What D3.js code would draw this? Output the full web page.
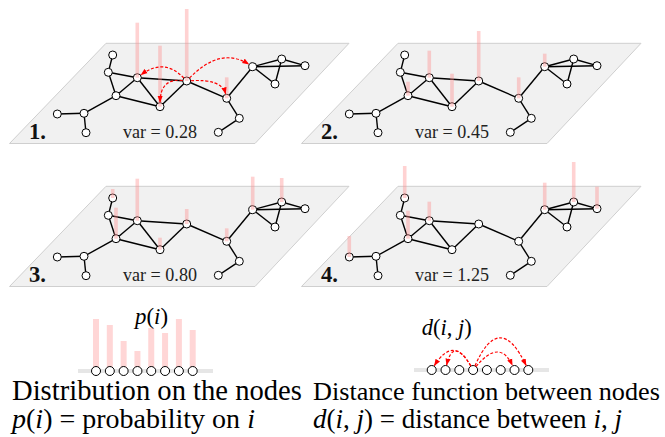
<!DOCTYPE html>
<html><head><meta charset="utf-8">
<script src="https://cdn.jsdelivr.net/npm/d3@7"></script>
<style>body{margin:0;background:#fff}svg{display:block}</style>
</head><body>
<svg id="c" width="665" height="437"></svg>
<script>
// ---------- data ----------
const nodeX = [112.7,108.3,137.3,116,160,186.7,226.7,252.7,281.7,305,275,239.3,218.3,84,57.3,86];
const nodeY = [55,72.3,77.7,95.7,106.7,81,98.3,66.7,59,65.7,84,118.3,132.3,113.3,114,132.7];
const edgeSource = [0,1,1,2,2,2,3,4,3,13,13,5,6,6,11,7,7,8,7,8];
const edgeTarget = [1,2,3,3,4,5,4,5,13,14,15,6,7,11,12,8,9,9,10,10];
const panelLabels = ["1.","2.","3.","4."];
const varLabels = ["var = 0.28","var = 0.45","var = 0.80","var = 1.25"];
const panelBarNodes = [[2,4,5,6],[3,2,4,5,6,7],[0,3,2,4,5,6,7,8],[0,3,2,14,7,8,9]];
const panelBarValues = [[0.55,0.61,0.72,0.21],[0.14,0.27,0.33,0.50,0.21,0.13],[0.09,0.31,0.42,0.12,0.15,0.13,0.33,0.24],[0.32,0.28,0.19,0.21,0.27,0.40,0.22]];
const arrowSource = 5;
const arrowTargets = [2,4,6,7];
const distBarValues = [0.52,0.46,0.30,0.20,0.43,0.38,0.52,0.41];
const distNodeCount = 8;
const distArrowSource = 3;
const distArrowTargets = [0,1,6,7];

// ---------- layout ----------
const FONT = '"Liberation Serif"';
const svg = d3.select("#c");
svg.append("rect").attr("width",665).attr("height",437).attr("fill","#fff");
const defs = svg.append("defs");
defs.append("marker").attr("id","ah").attr("viewBox","0 0 8 6").attr("refX",7.5).attr("refY",3)
  .attr("markerWidth",7).attr("markerHeight",6).attr("markerUnits","userSpaceOnUse").attr("orient","auto")
  .append("path").attr("d","M0,0 L8,3 L0,6 Z").attr("fill","#f00");

const panelOffsets = [[0,0],[292,0],[0,143],[292,143]];
const plane = [[106,43.3],[349,43.3],[255,143.5],[9.5,143.5]];
const barH = d3.scaleLinear().domain([0,1]).range([0,100]);
const barColor = "#ff8f8f";
const R = 4;

function txt(parent,x,y,size){
  return parent.append("text").attr("x",x).attr("y",y).style("font-family",FONT).style("font-size",size+"px");
}
function fit(t,w){
  const l=t.node().getComputedTextLength();
  const fs=parseFloat(t.style("font-size"))*w/l;
  t.style("font-size",fs+"px");
}
// rich text as separate text elements (parts = [[string, italic?], ...])
function rich(parent,x,y,size,parts,w,fill){
  const g=parent.append("g");
  const els=parts.map(p=>g.append("text").attr("y",y).style("font-family",FONT).style("font-size",size+"px")
    .style("font-style",p[1]?"italic":"normal").attr("fill",fill||"#000").text(p[0].replace(/ /g,"\u00a0")));
  const ws=els.map(e=>e.node().getComputedTextLength());
  const k=w/d3.sum(ws);
  let cx=x;
  els.forEach((e,i)=>{e.style("font-size",(size*k)+"px").attr("x",cx); cx+=ws[i]*k;});
  return g;
}

function curvePath(p0, p1, ctrlRel, r){
  const mid=[(p0[0]+p1[0])/2,(p0[1]+p1[1])/2];
  const c=[mid[0]+ctrlRel[0], mid[1]+ctrlRel[1]];
  const u=(a,b)=>{const dx=b[0]-a[0],dy=b[1]-a[1],l=Math.hypot(dx,dy);return [dx/l,dy/l];};
  const us=u(p0,c), ue=u(c,p1);
  const s=[p0[0]+us[0]*r,p0[1]+us[1]*r], e=[p1[0]-ue[0]*(r+0.5),p1[1]-ue[1]*(r+0.5)];
  return `M${s[0]},${s[1]} Q${c[0]},${c[1]} ${e[0]},${e[1]}`;
}
const panelArrowCtrl = [[2,-22],[-13,-16],[15,-11],[0.6,-27.6]];

panelOffsets.forEach((off,pi)=>{
  const x = d3.scaleLinear().domain([0,1]).range([off[0],off[0]+1]);
  const y = d3.scaleLinear().domain([0,1]).range([off[1],off[1]+1]);
  const g = svg.append("g");
  g.append("path").attr("d", d3.line()(plane.map(p=>[x(p[0]),y(p[1])]))+"Z")
    .attr("fill","#f1f1f1").attr("stroke","#cfcfcf").attr("stroke-width",1);
  g.selectAll("line.e").data(edgeSource.map((s,i)=>[s,edgeTarget[i]])).join("line")
    .attr("x1",d=>x(nodeX[d[0]])).attr("y1",d=>y(nodeY[d[0]]))
    .attr("x2",d=>x(nodeX[d[1]])).attr("y2",d=>y(nodeY[d[1]]))
    .attr("stroke","#000").attr("stroke-width",1.4);
  g.selectAll("circle").data(nodeX.map((v,i)=>i)).join("circle")
    .attr("cx",i=>x(nodeX[i])).attr("cy",i=>y(nodeY[i])).attr("r",R)
    .attr("fill","#fff").attr("stroke","#000").attr("stroke-width",1);
  g.selectAll("rect.b").data(panelBarNodes[pi].map((n,i)=>({n,v:panelBarValues[pi][i]}))).join("rect")
    .attr("x",d=>x(nodeX[d.n])-1.8).attr("width",3.6)
    .attr("y",d=>y(nodeY[d.n])-barH(d.v)).attr("height",d=>barH(d.v))
    .attr("fill",barColor).attr("opacity",0.4);
  if(pi===0){
    arrowTargets.forEach((t,k)=>{
      g.append("path").attr("d",curvePath([x(nodeX[arrowSource]),y(nodeY[arrowSource])],[x(nodeX[t]),y(nodeY[t])],panelArrowCtrl[k],R))
        .attr("fill","none").attr("stroke","#f00").attr("stroke-width",1.2).attr("stroke-dasharray","3,1.8")
        .attr("marker-end","url(#ah)");
    });
  }
  const nl = txt(g,x(29),y(139.3),21).style("font-weight","bold").attr("fill","#111").text(panelLabels[pi]);
  fit(nl,17);
  const vt = txt(g,x(123),y(137.5),14).attr("fill","#222").text(varLabels[pi].replace(/ /g,"\u00a0"));
  fit(vt,74);
});

// ---------- bottom left: distribution ----------
const dx = d3.scaleLinear().domain([0,distNodeCount-1]).range([96,192.7]);
const baseY = 371;
svg.selectAll("rect.db").data(distBarValues).join("rect").attr("class","db")
  .attr("x",(d,i)=>dx(i)-3).attr("width",6).attr("y",d=>baseY-barH(d)).attr("height",d=>barH(d))
  .attr("fill","#ffd6d6");
svg.append("line").attr("x1",78).attr("x2",213).attr("y1",baseY).attr("y2",baseY).attr("stroke","#e6e6e6").attr("stroke-width",4);
svg.selectAll("circle.dn").data(d3.range(distNodeCount)).join("circle").attr("class","dn")
  .attr("cx",i=>dx(i)).attr("cy",baseY).attr("r",4.5).attr("fill","#fff").attr("stroke","#000").attr("stroke-width",1);
rich(svg,135,324,17,[["p",1],["("],["i",1],[")"]],33);

// ---------- bottom right: distance ----------
const rx = d3.scaleLinear().domain([0,distNodeCount-1]).range([431.7,528.3]);
const rY = 370;
svg.append("line").attr("x1",414).attr("x2",549).attr("y1",rY).attr("y2",rY).attr("stroke","#e6e6e6").attr("stroke-width",4);
svg.selectAll("circle.rn").data(d3.range(distNodeCount)).join("circle").attr("class","rn")
  .attr("cx",i=>rx(i)).attr("cy",rY).attr("r",4.5).attr("fill","#fff").attr("stroke","#000").attr("stroke-width",1);
const distCtrl = [[1,-35],[-6,-34],[6,-32],[-1,-60]];
distArrowTargets.forEach((t,k)=>{
  svg.append("path").attr("d",curvePath([rx(distArrowSource),rY],[rx(t),rY],distCtrl[k],4.5))
    .attr("fill","none").attr("stroke","#f00").attr("stroke-width",1.2).attr("stroke-dasharray","3,1.8")
    .attr("marker-end","url(#ah)");
});
rich(svg,421.7,335,17,[["d",1],["("],["i",1],[", "],["j",1],[")"]],50);

// ---------- captions ----------
rich(svg,12,400,24,[["Distribution on the nodes"]],290);
rich(svg,12,428,24,[["p",1],["("],["i",1],[") = probability on "],["i",1]],243);
rich(svg,313,400,24,[["Distance function between nodes"]],347);
rich(svg,313,428,24,[["d",1],["("],["i",1],[", "],["j",1],[") = distance between "],["i",1],[", "],["j",1]],309);
</script>
</body></html>
